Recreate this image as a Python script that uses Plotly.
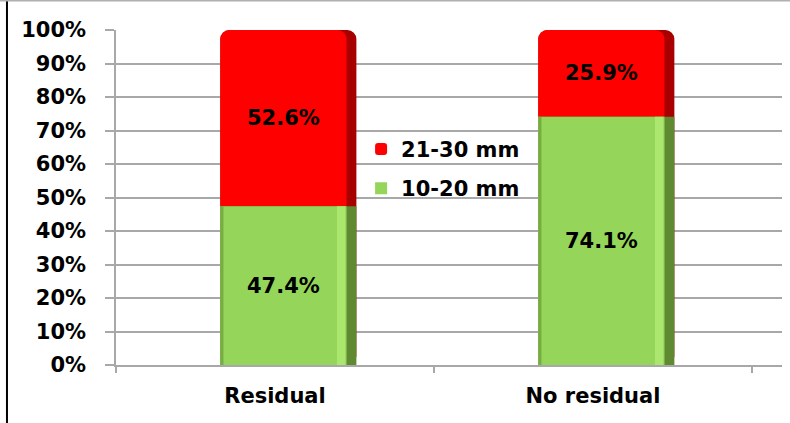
import plotly.graph_objects as go

# Share of tumour size groups by residual status
categories = ["Residual", "No residual"]
small_pct = [47.4, 74.1]   # 10-20 mm
large_pct = [52.6, 25.9]   # 21-30 mm
y_ticks = [0, 10, 20, 30, 40, 50, 60, 70, 80, 90, 100]
y_tick_labels = [f"{v}%" for v in y_ticks]

# top of each stacked column
totals = [s + l for s, l in zip(small_pct, large_pct)]

FONT = dict(family="DejaVu Sans", size=21, color="black", weight="bold")

GREEN = "#95d65a"
GREEN_LIGHT = "#abe66f"
GREEN_DARK = "#5f8a32"
GREEN_EDGE = "#78ad45"
RED = "#ff0000"
RED_DARK = "#a80000"

# bar geometry in category units
FULL_OFF, FULL_W = -0.172, 0.428
FRONT_W = 0.397
STRIPE_OFF, STRIPE_W = 0.195, 0.026
EDGE_W = 0.01

fig = go.Figure()

# red column drawn from the axis up to the total, then covered by green below
fig.add_bar(x=categories, y=totals, base=[0, 0], width=FULL_W, offset=FULL_OFF,
            marker=dict(color=RED_DARK, line_width=0, cornerradius=9),
            showlegend=False, hoverinfo="skip")
fig.add_bar(x=categories, y=totals, base=[0, 0], width=FRONT_W, offset=FULL_OFF,
            marker=dict(color=RED, line_width=0, cornerradius=9), name="21-30 mm",
            legendgroup="r", legendrank=1, hoverinfo="skip")

# green segment: side shading, face, highlight stripe, left edge
fig.add_bar(x=categories, y=small_pct, base=[0, 0], width=FULL_W, offset=FULL_OFF,
            marker=dict(color=GREEN_DARK, line_width=0), showlegend=False, hoverinfo="skip")
fig.add_bar(x=categories, y=small_pct, base=[0, 0], width=FRONT_W, offset=FULL_OFF,
            marker=dict(color=GREEN, line_width=0), name="10-20 mm",
            legendgroup="g", legendrank=2,
            text=[f"{v:.1f}%" for v in small_pct], textposition="inside",
            insidetextanchor="middle", textangle=0, textfont=FONT, constraintext="none")
fig.add_bar(x=categories, y=small_pct, base=[0, 0], width=STRIPE_W, offset=STRIPE_OFF,
            marker=dict(color=GREEN_LIGHT, line_width=0), showlegend=False, hoverinfo="skip")
fig.add_bar(x=categories, y=small_pct, base=[0, 0], width=EDGE_W, offset=FULL_OFF,
            marker=dict(color=GREEN_EDGE, line_width=0), showlegend=False, hoverinfo="skip")

# labels for the red segment, centred on its own span
fig.add_bar(x=categories, y=large_pct, base=small_pct, width=FRONT_W, offset=FULL_OFF,
            marker=dict(color="rgba(0,0,0,0)", line_width=0), showlegend=False,
            text=[f"{v:.1f}%" for v in large_pct], textposition="inside",
            insidetextanchor="middle", textangle=0, textfont=FONT, constraintext="none")

GRID = "#a8a8a8"

fig.update_layout(
    width=790, height=423,
    margin=dict(l=116, r=8, t=30, b=58),
    paper_bgcolor="white", plot_bgcolor="white",
    barmode="overlay",
    font=FONT,
    showlegend=True,
    legend=dict(x=0.368, y=0.705, xanchor="left", yanchor="top",
                bgcolor="rgba(0,0,0,0)", font=FONT, tracegroupgap=9,
                itemwidth=30),
    xaxis=dict(
        range=[-0.5, 1.5945], showgrid=False,
        showline=True, linecolor=GRID, linewidth=1.5,
        ticks="outside", tickson="boundaries", ticklen=6, tickcolor=GRID, tickwidth=1.5,
        ticklabelstandoff=11, tickfont=FONT,
    ),
    yaxis=dict(
        range=[0, 100], tickvals=y_ticks, ticktext=y_tick_labels,
        showgrid=True, gridcolor=GRID, gridwidth=1.5,
        showline=True, linecolor=GRID, linewidth=1.5,
        ticks="outside", ticklen=9, tickcolor=GRID, tickwidth=1.5,
        ticklabelstandoff=15, tickfont=FONT, zeroline=False,
    ),
    shapes=[
        # outer frame: black left edge, grey top edge
        dict(type="line", xref="paper", yref="paper", x0=-0.1637, x1=-0.1637,
             y0=-0.2, y1=1.1, line=dict(color="black", width=2)),
        dict(type="line", xref="paper", yref="paper", x0=-0.2, x1=1.1,
             y0=1.088, y1=1.088, line=dict(color="#b0b0b0", width=2)),
    ],
)

fig.write_html("out.html")
